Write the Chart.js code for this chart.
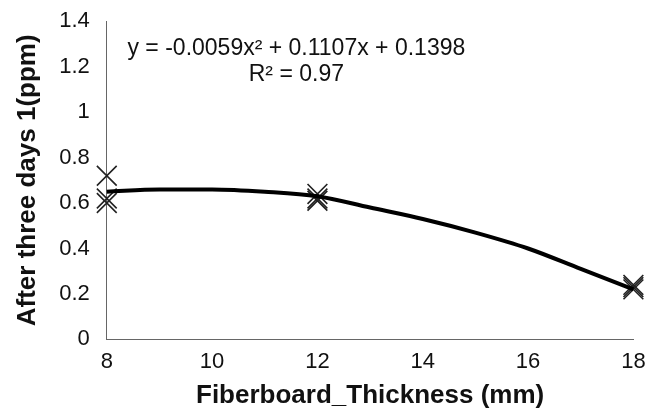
<!DOCTYPE html>
<html><head><meta charset="utf-8">
<script src="https://cdn.jsdelivr.net/npm/chart.js@4"></script>
<style>html,body{margin:0;padding:0;background:#fff}#wrap{width:649px;height:417px}</style>
</head><body><div id="wrap"><canvas id="c"></canvas></div>
<script>
const thickness = [8, 8, 8, 12, 12, 12, 18, 18, 18];
const measured = [0.72, 0.62, 0.60, 0.64, 0.62, 0.61, 0.24, 0.23, 0.22];
const trendX = [8, 9, 10, 11, 12, 13, 14, 15, 16, 17, 18];
const trendY = [0.65, 0.66, 0.66, 0.65, 0.63, 0.58, 0.53, 0.47, 0.40, 0.31, 0.22];
const xTicks = [8, 10, 12, 14, 16, 18];
const yTicks = [0, 0.2, 0.4, 0.6, 0.8, 1, 1.2, 1.4];
const equation = ["y = -0.0059x\u00B2 + 0.1107x + 0.1398", "R\u00B2 = 0.97"];
const FONT = '"Liberation Sans", Arial, sans-serif';

const eqPlugin = {
  id: 'eq',
  afterDatasetsDraw(chart) {
    const {ctx, scales} = chart;
    ctx.save();
    ctx.fillStyle = '#111';
    ctx.font = '23px ' + FONT;
    ctx.textAlign = 'center';
    ctx.textBaseline = 'middle';
    const cx = scales.x.getPixelForValue(11.6);
    ctx.fillText(equation[0], cx, scales.y.getPixelForValue(1.28));
    ctx.fillText(equation[1], cx, scales.y.getPixelForValue(1.165));
    ctx.restore();
  }
};

new Chart(document.getElementById('c'), {
  type: 'scatter',
  data: {
    datasets: [
      {
        data: trendX.map((x, i) => ({x, y: trendY[i]})),
        showLine: true,
        borderColor: '#000',
        borderWidth: 4,
        pointRadius: 0,
        cubicInterpolationMode: 'monotone',
        fill: false,
        clip: false
      },
      {
        data: thickness.map((x, i) => ({x, y: measured[i]})),
        pointStyle: 'crossRot',
        pointRadius: 14,
        borderColor: '#222',
        borderWidth: 1.6,
        showLine: false,
        clip: false
      }
    ]
  },
  plugins: [eqPlugin],
  options: {
    responsive: true,
    maintainAspectRatio: false,
    animation: false,
    layout: {padding: {left: 8, right: 12, top: 11, bottom: 6}},
    plugins: {legend: {display: false}, tooltip: {enabled: false}},
    scales: {
      x: {
        type: 'linear', min: 8, max: 18,
        afterBuildTicks: s => { s.ticks = xTicks.map(v => ({value: v})); },
        grid: {display: false, drawTicks: true, tickLength: 7, tickColor: '#666'},
        border: {display: true, color: '#666', width: 1},
        ticks: {color: '#111', font: {family: FONT, size: 22}, padding: 2},
        title: {display: true, text: 'Fiberboard_Thickness (mm)', color: '#111',
          font: {family: FONT, size: 26, weight: 'bold'}, padding: {top: 3, bottom: 0}}
      },
      y: {
        min: 0, max: 1.4,
        afterBuildTicks: s => { s.ticks = yTicks.map(v => ({value: v})); },
        grid: {display: false, drawTicks: true, tickLength: 9, tickColor: '#666'},
        border: {display: true, color: '#666', width: 1},
        ticks: {color: '#111', font: {family: FONT, size: 22}, padding: 8,
          callback: v => String(v)},
        title: {display: true, text: 'After three days 1(ppm)', color: '#111',
          font: {family: FONT, size: 26, weight: 'bold'}, padding: {bottom: 8}}
      }
    }
  }
});
</script></body></html>
